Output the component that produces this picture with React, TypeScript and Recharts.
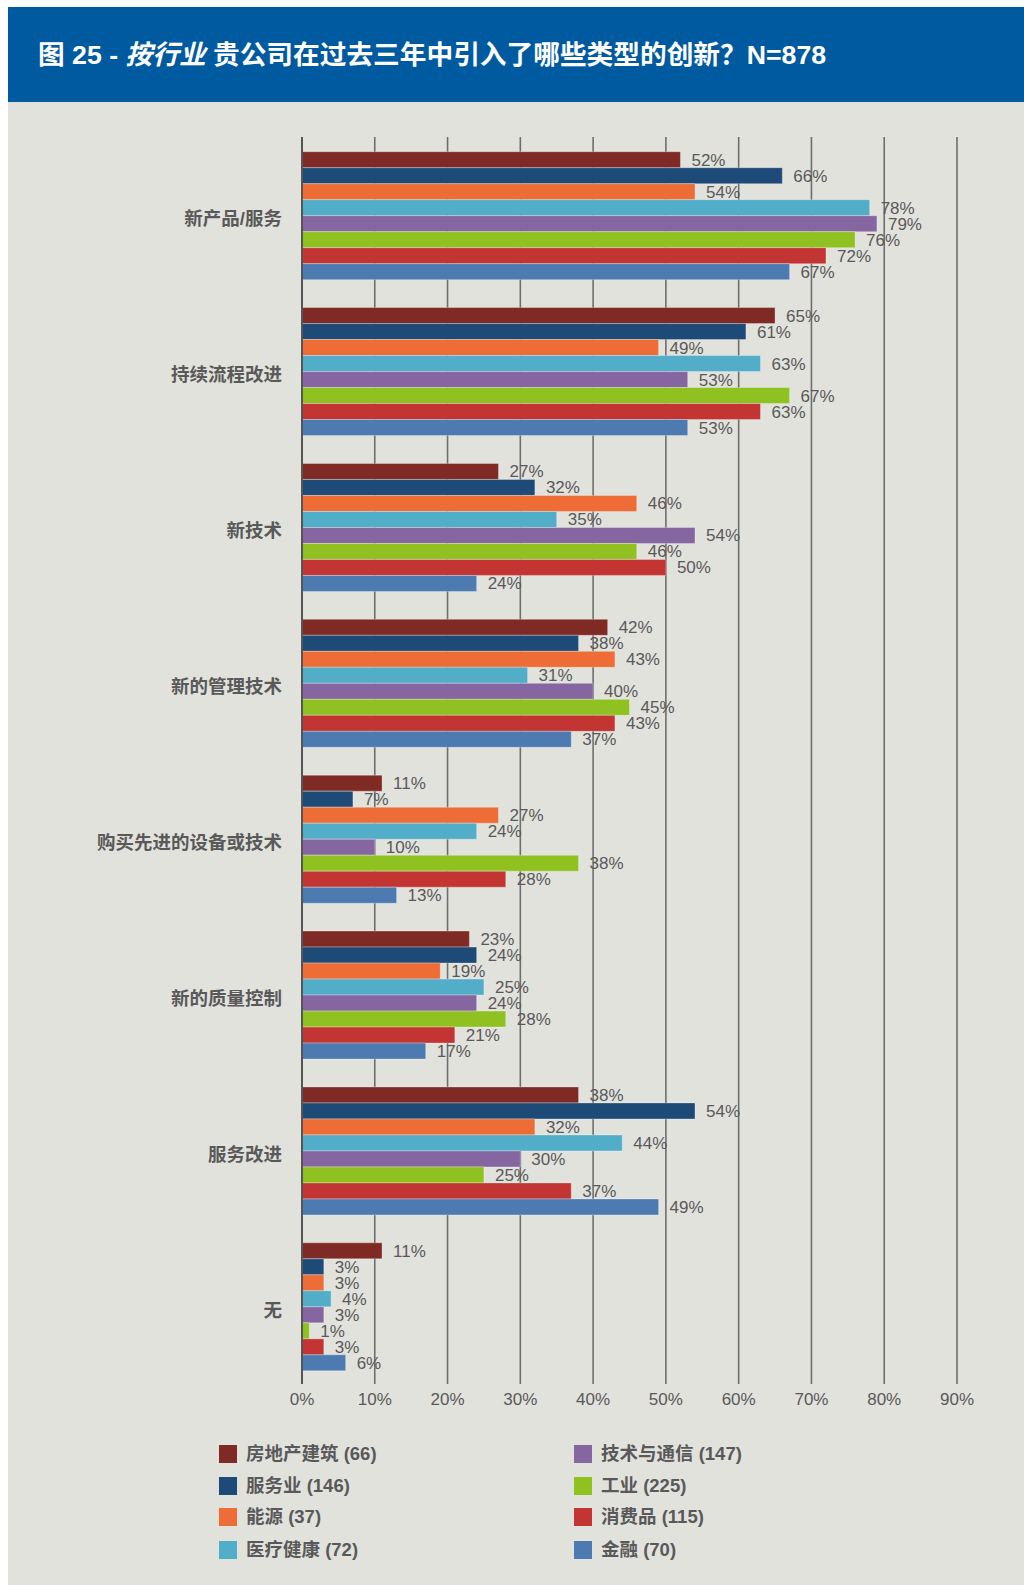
import React from 'react';
import { BarChart, Bar, XAxis, YAxis, CartesianGrid, LabelList } from 'recharts';

const categories = ['新产品/服务', '持续流程改进', '新技术', '新的管理技术', '购买先进的设备或技术', '新的质量控制', '服务改进', '无'];

const seriesNames = ['房地产建筑', '服务业', '能源', '医疗健康', '技术与通信', '工业', '消费品', '金融'];
const seriesCounts = [66, 146, 37, 72, 147, 225, 115, 70];
const seriesColors = ['#7f2a24', '#1e4a77', '#ee6c35', '#52adc9', '#8666a1', '#8fc220', '#c23532', '#4c7ab1'];

const realEstate = [52, 65, 27, 42, 11, 23, 38, 11];
const services = [66, 61, 32, 38, 7, 24, 54, 3];
const energy = [54, 49, 46, 43, 27, 19, 32, 3];
const health = [78, 63, 35, 31, 24, 25, 44, 4];
const tech = [79, 53, 54, 40, 10, 24, 30, 3];
const industry = [76, 67, 46, 45, 38, 28, 25, 1];
const consumer = [72, 63, 50, 43, 28, 21, 37, 3];
const finance = [67, 53, 24, 37, 13, 17, 49, 6];

const seriesValues = [realEstate, services, energy, health, tech, industry, consumer, finance];

const xTicks = [0, 10, 20, 30, 40, 50, 60, 70, 80, 90];

const data = categories.map((c, i) => {
  const row: Record<string, string | number> = { category: c };
  seriesValues.forEach((vals, s) => {
    row['s' + s] = vals[i];
  });
  return row;
});

const LATIN = "'Liberation Sans', Arial, 'Noto Sans CJK SC', sans-serif";
const CJK = "'Liberation Sans', Arial, 'Noto Sans CJK SC', sans-serif";
const GRAY = '#595959';

const CategoryTick = (props: any) => {
  const { y, payload } = props;
  return (
    <text x={274} y={y + 4} textAnchor="end" dominantBaseline="central" fill={GRAY} fontSize={18.5} fontWeight={700} fontFamily={CJK}>
      {payload.value}
    </text>
  );
};

export default function App() {
  const legendLeft = [0, 1, 2, 3];
  const legendRight = [4, 5, 6, 7];
  const rowYs = [1447, 1479, 1510, 1543];
  const renderLegendItem = (idx: number, row: number, col: number) => (
    <div key={idx} style={{ position: 'absolute', left: col === 0 ? 211 : 566, top: rowYs[row] - 9, height: 18, display: 'flex', alignItems: 'center', whiteSpace: 'nowrap' }}>
      <div style={{ width: 18, height: 18, background: seriesColors[idx] }} />
      <span style={{ marginLeft: 9, fontSize: 18.5, fontWeight: 700, color: GRAY, fontFamily: CJK, lineHeight: '18px' }}>
        {seriesNames[idx]} ({seriesCounts[idx]})
      </span>
    </div>
  );
  return (
    <div style={{ position: 'absolute', left: 8, top: 7, width: 1016, height: 1578, background: '#e2e2dd', overflow: 'hidden' }}>
      <div style={{ position: 'absolute', left: 0, top: 0, width: 1016, height: 95, background: '#005a9f' }}>
        <div style={{ position: 'absolute', left: 30, top: 34, color: '#ffffff', fontWeight: 700, fontSize: 26.7, fontFamily: CJK, whiteSpace: 'nowrap', lineHeight: '28px' }}>
          图 25 - <span style={{ fontStyle: 'italic' }}>按行业</span> 贵公司在过去三年中引入了哪些类型的创新？N=878
        </div>
      </div>
      <div style={{ position: 'absolute', left: 0, top: 95 }}>
        <BarChart
          width={1016}
          height={1322}
          data={data}
          layout="vertical"
          margin={{ top: 35, right: 67, bottom: 0, left: 0 }}
          barCategoryGap={14.7}
          barGap={0}
        >
          <CartesianGrid horizontal={false} vertical={true} stroke="#6e6e6e" strokeWidth={1.6} />
          <XAxis
            type="number"
            domain={[0, 90]}
            ticks={xTicks}
            tickFormatter={(v: number) => v + '%'}
            axisLine={false}
            tickLine={false}
            tickMargin={3}
            height={40}
            interval={0}
            tick={{ fill: GRAY, fontSize: 17, fontFamily: LATIN }}
          />
          <YAxis
            type="category"
            dataKey="category"
            width={294}
            axisLine={{ stroke: '#555555', strokeWidth: 2 }}
            tickLine={false}
            tick={<CategoryTick />}
            interval={0}
          />
          {seriesValues.map((_, s) => (
            <Bar key={s} dataKey={'s' + s} name={seriesNames[s]} fill={seriesColors[s]} stroke="#ffffff" strokeOpacity={0.3} strokeWidth={1} isAnimationActive={false}>
              <LabelList dataKey={'s' + s} position="right" offset={11} formatter={(v: any) => v + '%'} fill={GRAY} fontSize={17} fontFamily={LATIN} />
            </Bar>
          ))}
        </BarChart>
      </div>
      {legendLeft.map((idx, r) => renderLegendItem(idx, r, 0))}
      {legendRight.map((idx, r) => renderLegendItem(idx, r, 1))}
    </div>
  );
}
